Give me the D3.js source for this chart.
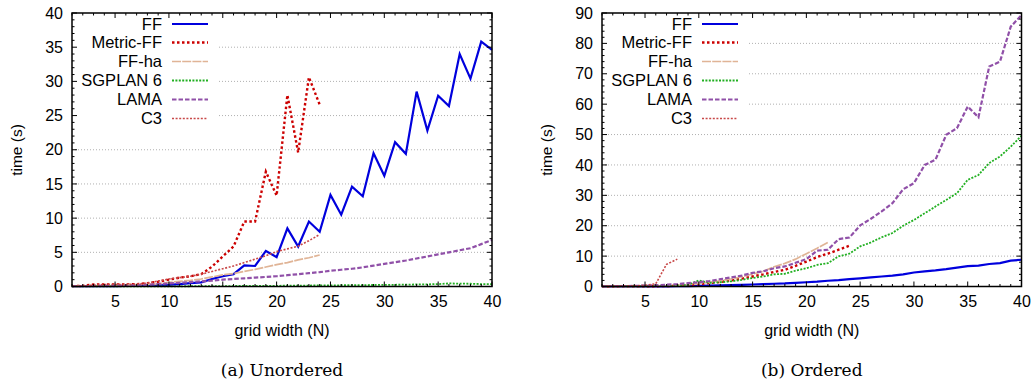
<!DOCTYPE html>
<html>
<head>
<meta charset="utf-8">
<script src="https://cdn.jsdelivr.net/npm/d3@7"></script>
<style>
  body { margin: 0; background: #fff; }
  svg { display: block; }
  text { font-family: "Liberation Sans", Arial, sans-serif; fill: #000; }
  .caption { font-family: "DejaVu Serif", "Liberation Serif", serif; }
</style>
</head>
<body>
<svg id="chart" width="1035" height="383"></svg>
<script>
// grid width N = 1..40
const gridWidth = d3.range(1, 41);
const seriesNames = ["FF", "Metric-FF", "FF-ha", "SGPLAN 6", "LAMA", "C3"];

// (a) Unordered, time in seconds
const unorderedFF = [0.05,0.05,0.05,0.05,0.06,0.07,0.08,0.1,0.15,0.25,0.35,0.5,0.6,1.1,1.5,1.8,3.1,3.0,5.2,4.3,
  8.5,5.85,9.5,8.0,13.4,10.5,14.6,13.2,19.5,16.2,21.1,19.4,28.5,22.8,27.9,26.4,34.0,30.4,35.8,34.6];
const unorderedMetricFF = [0.05,0.1,0.3,0.3,0.3,0.3,0.35,0.5,0.7,1.0,1.3,1.5,1.8,2.9,4.4,5.85,9.5,9.5,16.8,13.3,
  28.0,19.6,30.6,26.6];
const unorderedFFha = [0.05,0.05,0.1,0.1,0.15,0.2,0.25,0.3,0.4,0.6,0.75,0.9,1.1,1.4,1.7,1.9,2.2,2.5,2.85,3.2,
  3.5,3.9,4.2,4.6];
const unorderedSGPLAN = [0.02,0.02,0.02,0.02,0.02,0.02,0.02,0.02,0.02,0.02,0.03,0.04,0.05,0.05,0.06,0.07,0.08,0.09,0.1,0.1,
  0.12,0.13,0.14,0.15,0.17,0.18,0.2,0.21,0.22,0.24,0.25,0.27,0.3,0.32,0.35,0.45,0.42,0.4,0.35,0.35];
const unorderedLAMA = [0.05,0.05,0.07,0.1,0.12,0.15,0.2,0.25,0.35,0.45,0.55,0.65,0.75,0.85,1.0,1.1,1.2,1.3,1.4,1.5,
  1.65,1.8,1.95,2.1,2.3,2.45,2.6,2.8,3.05,3.3,3.55,3.8,4.1,4.4,4.7,5.0,5.3,5.6,6.2,6.8];
const unorderedC3 = [0.05,0.1,0.2,0.3,0.3,0.3,0.35,0.5,0.8,1.1,1.3,1.5,1.8,2.2,2.6,3.0,3.5,4.0,4.5,5.1,
  5.5,5.9,6.7,7.6];

// (b) Ordered, time in seconds
const orderedFF = [0.01,0.01,0.02,0.02,0.03,0.05,0.07,0.1,0.15,0.2,0.3,0.35,0.45,0.55,0.65,0.75,0.9,1.0,1.2,1.4,
  1.6,1.9,2.1,2.4,2.7,3.0,3.3,3.6,4.0,4.6,5.0,5.3,5.7,6.2,6.7,6.9,7.4,7.7,8.5,8.8];
const orderedMetricFF = [0.02,0.02,0.03,0.05,0.08,0.1,0.15,0.25,0.5,0.8,1.1,1.5,2.0,2.6,3.3,4.0,4.8,5.5,6.8,8.2,
  9.7,10.8,12.1,13.4];
const orderedFFha = [0.02,0.02,0.03,0.05,0.1,0.15,0.2,0.35,0.6,1.0,1.4,1.9,2.5,3.2,4.1,5.0,6.5,7.6,9.0,10.8,
  12.6,14.5];
const orderedSGPLAN = [0.02,0.02,0.03,0.05,0.08,0.1,0.15,0.3,0.6,2.0,1.2,1.4,1.7,2.2,2.8,3.3,4.0,4.2,5.2,6.0,
  7.1,7.7,9.9,10.8,13.2,14.5,16.2,17.6,20.0,21.9,24.1,26.3,28.5,30.7,35.1,36.7,40.6,42.8,46.0,49.6];
const orderedLAMA = [0.05,0.1,0.15,0.2,0.3,0.4,0.6,0.8,1.1,1.4,1.8,2.4,3.0,3.6,4.5,5.0,6.0,6.6,7.8,9.0,
  11.8,12.1,15.6,16.1,20.1,22.3,24.7,27.4,32.0,34.0,40.0,41.7,49.9,52.1,59.2,55.7,72.4,74.0,85.5,89.3];
const orderedC3 = [0.05,0.1,0.15,0.2,0.4,0.9,7.3,9.0];

const xTicks = [5, 10, 15, 20, 25, 30, 35, 40];
const unorderedYTicks = [0, 5, 10, 15, 20, 25, 30, 35, 40];
const orderedYTicks = [0, 10, 20, 30, 40, 50, 60, 70, 80, 90];

// line look per series (gnuplot-ish)
const styles = {
  "FF":        { color: "#0000dd", width: 2.2, dash: null },
  "Metric-FF": { color: "#cc0000", width: 2.4, dash: "2.5,2.5" },
  "FF-ha":     { color: "#e0b496", width: 1.7, dash: "9,1.2" },
  "SGPLAN 6":  { color: "#22b022", width: 1.8, dash: "2,1.4" },
  "LAMA":      { color: "#9050a8", width: 2.2, dash: "4.5,2" },
  "C3":        { color: "#c84848", width: 1.6, dash: "2,1.6" }
};

const panels = [
  { left: 72, right: 492, yMax: 40, yTicks: unorderedYTicks, minorStep: 1,
    legendEnd: 218, caption: "(a) Unordered",
    series: [unorderedFF, unorderedMetricFF, unorderedFFha, unorderedSGPLAN, unorderedLAMA, unorderedC3] },
  { left: 602, right: 1021.5, yMax: 90, yTicks: orderedYTicks, minorStep: 2,
    legendEnd: 747, caption: "(b) Ordered",
    series: [orderedFF, orderedMetricFF, orderedFFha, orderedSGPLAN, orderedLAMA, orderedC3] }
];

const plotTop = 13, plotBottom = 286.5;
const svg = d3.select("#chart");

panels.forEach(p => {
  const g = svg.append("g");
  const x = d3.scaleLinear().domain([1, 40]).range([p.left, p.right]);
  const y = d3.scaleLinear().domain([0, p.yMax]).range([plotBottom, plotTop]);

  // horizontal dotted grid
  g.selectAll(".grid")
    .data(p.yTicks.filter(t => t > 0 && t < p.yMax))
    .join("line")
    .attr("x1", p.left).attr("x2", p.right)
    .attr("y1", d => y(d)).attr("y2", d => y(d))
    .attr("stroke", "#b0b0b0")
    .attr("stroke-width", 1)
    .attr("stroke-dasharray", "1,2");

  // legend box is opaque in gnuplot
  g.append("rect")
    .attr("x", p.left + 1).attr("y", plotTop + 1)
    .attr("width", p.legendEnd - p.left - 1).attr("height", 115)
    .attr("fill", "#fff");

  // data lines
  const line = d3.line()
    .x((d, i) => x(gridWidth[i]))
    .y(d => y(d));
  p.series.forEach((vals, k) => {
    const st = styles[seriesNames[k]];
    g.append("path")
      .datum(vals)
      .attr("d", line)
      .attr("fill", "none")
      .attr("stroke", st.color)
      .attr("stroke-width", st.width)
      .attr("stroke-dasharray", st.dash)
      .attr("stroke-linejoin", "miter");
  });

  // axes: ticks inward, mirrored on top/right
  const bottomAxis = d3.axisBottom(x).tickValues(xTicks).tickSize(0).tickPadding(9);
  g.append("g").attr("transform", `translate(0,${plotBottom})`).call(bottomAxis)
    .call(a => a.select(".domain").remove())
    .call(a => a.selectAll("text").attr("font-size", 16).attr("font-family", "Liberation Sans, Arial, sans-serif"));
  const leftAxis = d3.axisLeft(y).tickValues(p.yTicks).tickSize(0).tickPadding(9);
  g.append("g").attr("transform", `translate(${p.left},0)`).call(leftAxis)
    .call(a => a.select(".domain").remove())
    .call(a => a.selectAll("text").attr("font-size", 16).attr("font-family", "Liberation Sans, Arial, sans-serif"));

  const tickG = g.append("g").attr("stroke", "#000").attr("stroke-width", 1);
  d3.range(1, 41).forEach(v => {
    const len = v % 5 === 0 ? 5 : 2.5;
    tickG.append("line").attr("x1", x(v)).attr("x2", x(v)).attr("y1", plotBottom).attr("y2", plotBottom - len);
    tickG.append("line").attr("x1", x(v)).attr("x2", x(v)).attr("y1", plotTop).attr("y2", plotTop + len);
  });
  d3.range(0, p.yMax + 0.001, p.minorStep).forEach(v => {
    const len = p.yTicks.includes(v) ? 5 : 2.5;
    tickG.append("line").attr("x1", p.left).attr("x2", p.left + len).attr("y1", y(v)).attr("y2", y(v));
    tickG.append("line").attr("x1", p.right).attr("x2", p.right - len).attr("y1", y(v)).attr("y2", y(v));
  });

  g.append("rect")
    .attr("x", p.left).attr("y", plotTop)
    .attr("width", p.right - p.left).attr("height", plotBottom - plotTop)
    .attr("fill", "none").attr("stroke", "#000").attr("stroke-width", 1.5);

  // legend
  const rows = [24, 42.5, 61.5, 80.5, 99.5, 118.5];
  seriesNames.forEach((name, k) => {
    const st = styles[name];
    g.append("text")
      .attr("x", p.left + 90).attr("y", rows[k] + 5.5)
      .attr("text-anchor", "end").attr("font-size", 16.5)
      .text(name);
    g.append("line")
      .attr("x1", p.left + 100).attr("x2", p.left + 136)
      .attr("y1", rows[k]).attr("y2", rows[k])
      .attr("stroke", st.color).attr("stroke-width", st.width)
      .attr("stroke-dasharray", st.dash);
  });

  // axis titles and caption
  const mid = (p.left + p.right) / 2;
  g.append("text")
    .attr("transform", `translate(${p.left - 50},150) rotate(-90)`)
    .attr("text-anchor", "middle").attr("font-size", 15.5)
    .text("time (s)");
  g.append("text")
    .attr("x", mid).attr("y", 336)
    .attr("text-anchor", "middle").attr("font-size", 16)
    .text("grid width (N)");
  g.append("text")
    .attr("class", "caption")
    .attr("x", mid).attr("y", 376)
    .attr("text-anchor", "middle").attr("font-size", 17)
    .text(p.caption);
});
</script>
</body>
</html>
